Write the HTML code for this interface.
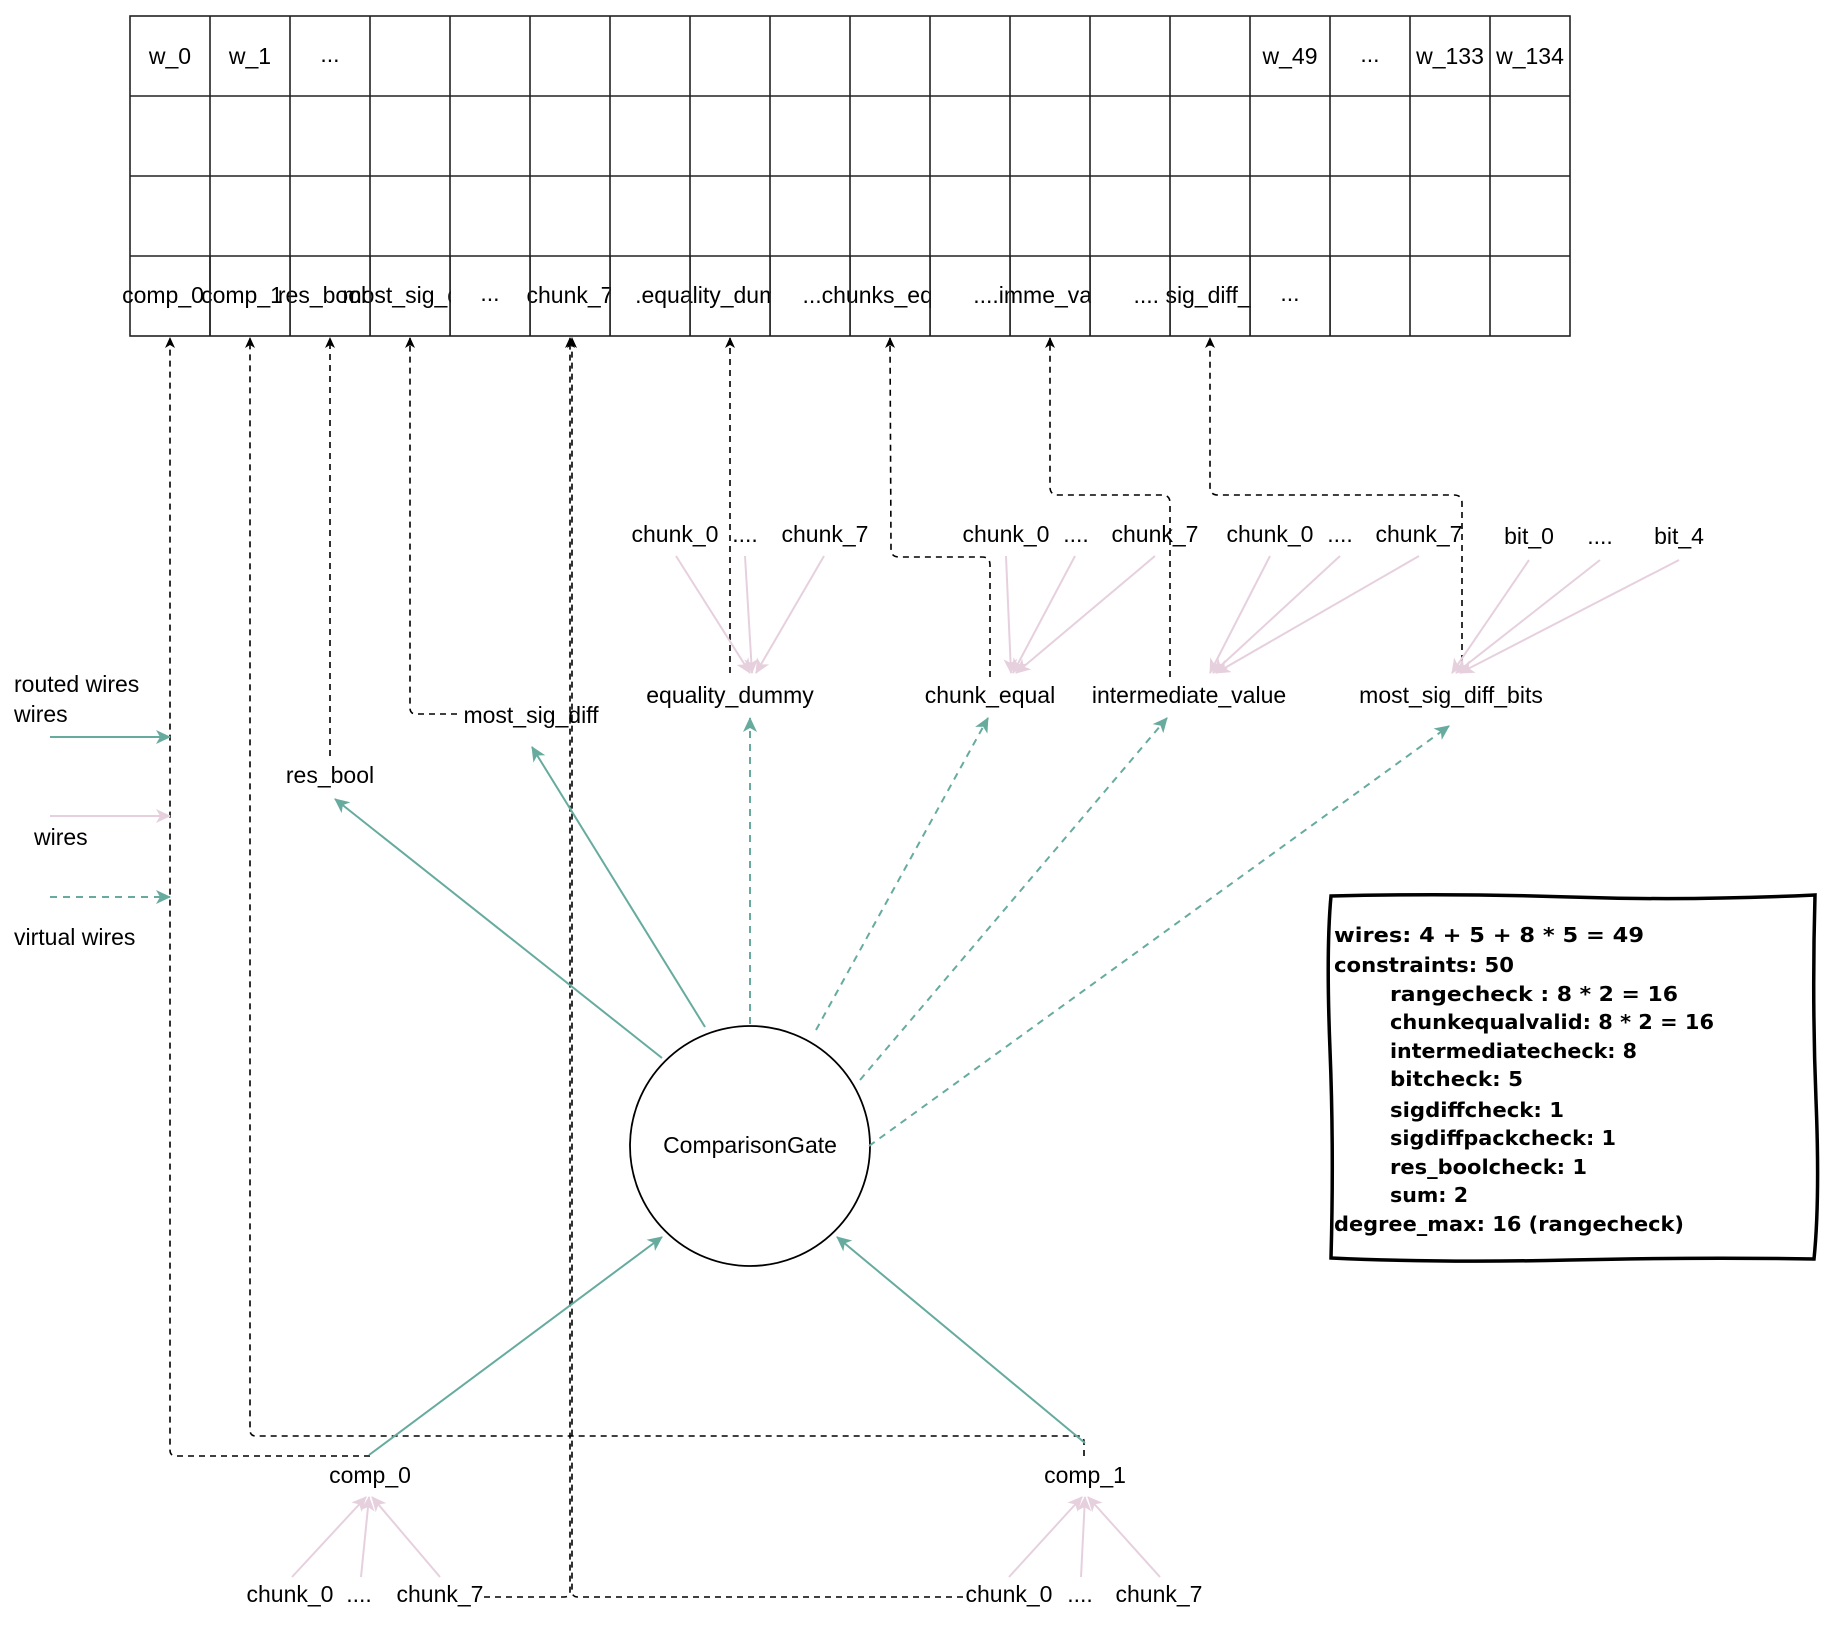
<!DOCTYPE html>
<html><head><meta charset="utf-8"><style>
html,body{margin:0;padding:0;background:#fff;}
svg{display:block;}
text{font-family:"Liberation Sans",Arial,sans-serif;font-size:23px;fill:#000;}
.b text{font-family:"DejaVu Sans",sans-serif;font-weight:bold;font-size:20px;}
</style></head><body>
<svg width="1830" height="1634" viewBox="0 0 1830 1634" xmlns="http://www.w3.org/2000/svg">
<defs>
<marker id="ak" markerWidth="12" markerHeight="12" refX="10" refY="6" orient="auto" markerUnits="userSpaceOnUse"><path d="M0,1 L11,6 L0,11 L3,6 Z" fill="#000"/></marker>
<marker id="at" markerWidth="16" markerHeight="16" refX="14" refY="8" orient="auto" markerUnits="userSpaceOnUse"><path d="M0,1 L15,8 L0,15 L4,8 Z" fill="#67AB9F"/></marker>
<marker id="ap" markerWidth="16" markerHeight="16" refX="14" refY="8" orient="auto" markerUnits="userSpaceOnUse"><path d="M0,1 L15,8 L0,15 L4,8 Z" fill="#E6D0DE"/></marker>
</defs>

<g fill="#fff" stroke="#222" stroke-width="1.6">
<rect x="130" y="16" width="1440" height="320"/>
</g>
<g stroke="#222" stroke-width="1.6">
<line x1="130" y1="96" x2="1570" y2="96"/><line x1="130" y1="176" x2="1570" y2="176"/><line x1="130" y1="256" x2="1570" y2="256"/>
<line x1="210" y1="16" x2="210" y2="336"/><line x1="290" y1="16" x2="290" y2="336"/><line x1="370" y1="16" x2="370" y2="336"/><line x1="450" y1="16" x2="450" y2="336"/><line x1="530" y1="16" x2="530" y2="336"/><line x1="610" y1="16" x2="610" y2="336"/><line x1="690" y1="16" x2="690" y2="336"/><line x1="770" y1="16" x2="770" y2="336"/><line x1="850" y1="16" x2="850" y2="336"/><line x1="930" y1="16" x2="930" y2="336"/><line x1="1010" y1="16" x2="1010" y2="336"/><line x1="1090" y1="16" x2="1090" y2="336"/><line x1="1170" y1="16" x2="1170" y2="336"/><line x1="1250" y1="16" x2="1250" y2="336"/><line x1="1330" y1="16" x2="1330" y2="336"/><line x1="1410" y1="16" x2="1410" y2="336"/><line x1="1490" y1="16" x2="1490" y2="336"/>
</g>
<g text-anchor="middle">
<text x="170" y="64">w_0</text><text x="250" y="64">w_1</text><text x="330" y="62">...</text>
<text x="1290" y="64">w_49</text><text x="1370" y="62">...</text><text x="1450" y="64">w_133</text><text x="1530" y="64">w_134</text>
</g>
<svg x="0" y="256" width="1830" height="80" overflow="hidden">
<g text-anchor="middle">
<text x="163" y="47">comp_0</text>
<rect x="211" y="1" width="79" height="78" fill="#fff"/><text x="242" y="47">comp_1</text>
<rect x="291" y="1" width="79" height="78" fill="#fff"/><text x="322" y="47">res_bool</text>
<rect x="371" y="1" width="79" height="78" fill="#fff"/><text x="410" y="47">most_sig_diff</text>
<rect x="451" y="1" width="79" height="78" fill="#fff"/><text x="490" y="45">...</text>
<rect x="531" y="1" width="79" height="78" fill="#fff"/><text x="570" y="47">chunk_7</text>
<rect x="611" y="1" width="79" height="78" fill="#fff"/>
<rect x="691" y="1" width="79" height="78" fill="#fff"/><text x="722" y="47">.equality_dummy</text>
<rect x="771" y="1" width="79" height="78" fill="#fff"/>
<rect x="851" y="1" width="79" height="78" fill="#fff"/><text x="883" y="47">...chunks_equal</text>
<rect x="931" y="1" width="79" height="78" fill="#fff"/>
<rect x="1011" y="1" width="79" height="78" fill="#fff"/><text x="1048" y="47">....imme_value</text>
<rect x="1091" y="1" width="79" height="78" fill="#fff"/>
<rect x="1171" y="1" width="79" height="78" fill="#fff"/><text x="1210" y="47">.... sig_diff_bits</text>
<rect x="1251" y="1" width="79" height="78" fill="#fff"/><text x="1290" y="45">...</text>
</g>
</svg>
<g stroke="#222" stroke-width="1.6">
<line x1="290" y1="256" x2="290" y2="336"/><line x1="370" y1="256" x2="370" y2="336"/><line x1="450" y1="256" x2="450" y2="336"/><line x1="530" y1="256" x2="530" y2="336"/><line x1="610" y1="256" x2="610" y2="336"/><line x1="690" y1="256" x2="690" y2="336"/><line x1="770" y1="256" x2="770" y2="336"/><line x1="850" y1="256" x2="850" y2="336"/><line x1="930" y1="256" x2="930" y2="336"/><line x1="1010" y1="256" x2="1010" y2="336"/><line x1="1090" y1="256" x2="1090" y2="336"/><line x1="1170" y1="256" x2="1170" y2="336"/><line x1="1250" y1="256" x2="1250" y2="336"/><line x1="1330" y1="256" x2="1330" y2="336"/><line x1="210" y1="256" x2="210" y2="336"/>
</g>

<g fill="none" stroke="#000" stroke-width="1.6" stroke-dasharray="6 5" marker-end="url(#ak)">
<path d="M370,1456 L176,1456 Q170,1456 170,1450 L170,338"/>
<path d="M1084,1456 L1084,1442 Q1084,1436 1078,1436 L256,1436 Q250,1436 250,1430 L250,338"/>
<path d="M330,756 L330,338"/>
<path d="M457,714 L416,714 Q410,714 410,708 L410,338"/>
<path d="M484,1597 L564,1597 Q570,1597 570,1591 L570,338"/>
<path d="M963,1597 L578,1597 Q572,1597 572,1591 L572,338"/>
<path d="M730,673 L730,338"/>
<path d="M990,677 L990,565 Q990,557 982,557 L899,557 Q891,557 891,549 L890,338"/>
<path d="M1170,677 L1170,503 Q1170,495 1162,495 L1058,495 Q1050,495 1050,487 L1050,338"/>
<path d="M1462,672 L1462,503 Q1462,495 1454,495 L1218,495 Q1210,495 1210,487 L1210,338"/>
</g>

<circle cx="750" cy="1146" r="120" fill="#fff" stroke="#000" stroke-width="1.8"/>
<text x="750" y="1153" text-anchor="middle">ComparisonGate</text>

<g fill="none" stroke="#67AB9F" stroke-width="2" marker-end="url(#at)">
<line x1="662" y1="1058" x2="335" y2="799"/>
<line x1="705" y1="1027" x2="532" y2="747"/>
<line x1="369" y1="1455" x2="662" y2="1237"/>
<line x1="1085" y1="1443" x2="837" y2="1237"/>
<line x1="50" y1="737" x2="170" y2="737"/>
</g>
<g fill="none" stroke="#67AB9F" stroke-width="2" stroke-dasharray="7 6" marker-end="url(#at)">
<line x1="750" y1="1024" x2="750" y2="718"/>
<line x1="816" y1="1030" x2="988" y2="718"/>
<line x1="860" y1="1080" x2="1167" y2="718"/>
<line x1="869" y1="1146" x2="1449" y2="726"/>
<line x1="50" y1="897" x2="170" y2="897"/>
</g>
<g fill="none" stroke="#E6D0DE" stroke-width="2" marker-end="url(#ap)">
<line x1="50" y1="816" x2="170" y2="816"/>
<line x1="676" y1="556" x2="750" y2="673"/><line x1="745" y1="556" x2="752" y2="673"/><line x1="824" y1="556" x2="756" y2="673"/>
<line x1="1006" y1="556" x2="1011" y2="673"/><line x1="1075" y1="556" x2="1013" y2="673"/><line x1="1155" y1="556" x2="1016" y2="673"/>
<line x1="1270" y1="556" x2="1210" y2="673"/><line x1="1340" y1="556" x2="1213" y2="673"/><line x1="1419" y1="556" x2="1216" y2="673"/>
<line x1="1529" y1="560" x2="1452" y2="673"/><line x1="1600" y1="560" x2="1456" y2="673"/><line x1="1679" y1="560" x2="1460" y2="673"/>
<line x1="292" y1="1577" x2="366" y2="1497"/><line x1="361" y1="1577" x2="369" y2="1497"/><line x1="440" y1="1577" x2="372" y2="1497"/>
<line x1="1009" y1="1577" x2="1082" y2="1497"/><line x1="1081" y1="1577" x2="1085" y2="1497"/><line x1="1160" y1="1577" x2="1088" y2="1497"/>
</g>

<g text-anchor="middle">
<text x="675" y="542">chunk_0</text><text x="745" y="542">....</text><text x="825" y="542">chunk_7</text>
<text x="1006" y="542">chunk_0</text><text x="1076" y="542">....</text><text x="1155" y="542">chunk_7</text>
<text x="1270" y="542">chunk_0</text><text x="1340" y="542">....</text><text x="1419" y="542">chunk_7</text>
<text x="1529" y="544">bit_0</text><text x="1600" y="544">....</text><text x="1679" y="544">bit_4</text>
<text x="730" y="703">equality_dummy</text>
<text x="990" y="703">chunk_equal</text>
<text x="1189" y="703">intermediate_value</text>
<text x="1451" y="703">most_sig_diff_bits</text>
<text x="531" y="723">most_sig_diff</text>
<text x="330" y="783">res_bool</text>
<text x="370" y="1483">comp_0</text>
<text x="1085" y="1483">comp_1</text>
<text x="290" y="1602">chunk_0</text><text x="359" y="1602">....</text><text x="440" y="1602">chunk_7</text>
<text x="1009" y="1602">chunk_0</text><text x="1080" y="1602">....</text><text x="1159" y="1602">chunk_7</text>
</g>
<g>
<text x="14" y="692">routed wires</text>
<text x="14" y="722">wires</text>
<text x="34" y="845">wires</text>
<text x="14" y="945">virtual wires</text>
</g>

<path d="M1331,896 Q1450,893 1570,897 T1815,895 Q1812,1000 1816,1100 T1814,1259 Q1700,1257 1570,1260 T1331,1258 Q1334,1150 1330,1050 T1331,896 Z" fill="#fff" stroke="#000" stroke-width="3.5"/>
<g class="b">
<text x="1334" y="942" textLength="310" lengthAdjust="spacingAndGlyphs">wires: 4 + 5 + 8 * 5 = 49</text>
<text x="1334" y="972" textLength="180" lengthAdjust="spacingAndGlyphs">constraints: 50</text>
<text x="1390" y="1001" textLength="288" lengthAdjust="spacingAndGlyphs">rangecheck : 8 * 2 = 16</text>
<text x="1390" y="1029" textLength="324" lengthAdjust="spacingAndGlyphs">chunkequalvalid: 8 * 2 = 16</text>
<text x="1390" y="1058" textLength="247" lengthAdjust="spacingAndGlyphs">intermediatecheck: 8</text>
<text x="1390" y="1086" textLength="133" lengthAdjust="spacingAndGlyphs">bitcheck: 5</text>
<text x="1390" y="1117" textLength="174" lengthAdjust="spacingAndGlyphs">sigdiffcheck: 1</text>
<text x="1390" y="1145" textLength="226" lengthAdjust="spacingAndGlyphs">sigdiffpackcheck: 1</text>
<text x="1390" y="1174" textLength="197" lengthAdjust="spacingAndGlyphs">res_boolcheck: 1</text>
<text x="1390" y="1202" textLength="78" lengthAdjust="spacingAndGlyphs">sum: 2</text>
<text x="1334" y="1231" textLength="350" lengthAdjust="spacingAndGlyphs">degree_max: 16 (rangecheck)</text>
</g>
</svg>
</body></html>
